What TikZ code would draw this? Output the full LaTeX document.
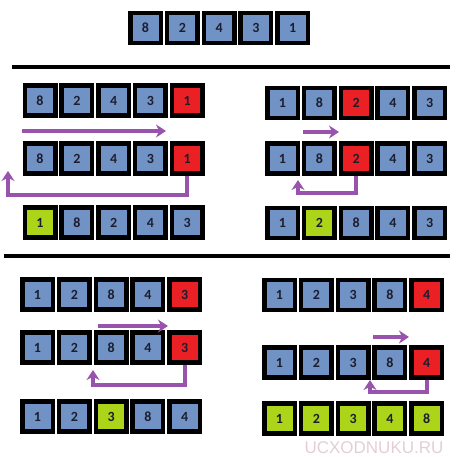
\documentclass[tikz,border=0pt]{standalone}
\usepackage{fontspec}
\setmainfont{Carlito}
\newfontfamily\markfont{Liberation Sans}
\usetikzlibrary{arrows.meta}
\definecolor{cellblue}{RGB}{112,146,196}
\definecolor{cellred}{RGB}{234,32,36}
\definecolor{cellgreen}{RGB}{172,212,24}
\definecolor{movepurple}{RGB}{152,84,172}
\definecolor{markpink}{RGB}{228,206,214}
\definecolor{digitink}{RGB}{28,30,48}
\begin{document}
\begin{tikzpicture}[x=1pt,y=-1pt,>={Stealth[length=10pt,width=13pt]},font=\bfseries\fontsize{14}{14}\selectfont]
\tikzstyle{cell}=[draw=black,line width=4.5pt,minimum width=30.5pt,minimum height=30pt,inner sep=0pt,fill=cellblue,text=digitink]
\tikzstyle{key}=[cell,fill=cellred]
\tikzstyle{done}=[cell,fill=cellgreen]
\tikzstyle{move}=[movepurple,line width=4pt]
\tikzstyle{rule}=[line width=4pt]
\useasboundingbox (0,0) rectangle (461,456);
% starting array
\foreach \v/\s [count=\i] in {8/cell,2/cell,4/cell,3/cell,1/cell}
  \node[\s] (start\i) at ({145.5+36.8*(\i-1)},28) {\v};
\draw[rule] (12,67) -- (450,67);
\draw[rule] (4,256) -- (450,256);
% pass 1
\foreach \v/\s [count=\i] in {8/cell,2/cell,4/cell,3/cell,1/key}
  \node[\s] (passAa\i) at ({40+36.8*(\i-1)},100.5) {\v};
\foreach \v/\s [count=\i] in {8/cell,2/cell,4/cell,3/cell,1/key}
  \node[\s] (passAb\i) at ({40+36.8*(\i-1)},158.5) {\v};
\foreach \v/\s [count=\i] in {1/done,8/cell,2/cell,4/cell,3/cell}
  \node[\s] (passAc\i) at ({40+36.8*(\i-1)},222.5) {\v};
\coordinate (passAfrom) at (22,131);
\coordinate (passAto) at (166,131);
\coordinate (passAturn) at (8,195);
\coordinate (passAback) at (8,171);
\draw[move,->] (passAfrom) -- (passAto);
\draw[move,->] (passAb5.south) |- (passAturn) -- (passAback);
% pass 2
\foreach \v/\s [count=\i] in {1/cell,8/cell,2/key,4/cell,3/cell}
  \node[\s] (passBa\i) at ({282.5+36.8*(\i-1)},103) {\v};
\foreach \v/\s [count=\i] in {1/cell,8/cell,2/key,4/cell,3/cell}
  \node[\s] (passBb\i) at ({282.5+36.8*(\i-1)},158.5) {\v};
\foreach \v/\s [count=\i] in {1/cell,2/done,8/cell,4/cell,3/cell}
  \node[\s] (passBc\i) at ({282.5+36.8*(\i-1)},223) {\v};
\coordinate (passBfrom) at (303,132);
\coordinate (passBto) at (339,132);
\coordinate (passBturn) at (298,193);
\coordinate (passBback) at (298,180);
\draw[move,->] (passBfrom) -- (passBto);
\draw[move,->] (passBb3.south) |- (passBturn) -- (passBback);
% pass 3
\foreach \v/\s [count=\i] in {1/cell,2/cell,8/cell,4/cell,3/key}
  \node[\s] (passCa\i) at ({37.5+36.8*(\i-1)},294.5) {\v};
\foreach \v/\s [count=\i] in {1/cell,2/cell,8/cell,4/cell,3/key}
  \node[\s] (passCb\i) at ({37.5+36.8*(\i-1)},347.5) {\v};
\foreach \v/\s [count=\i] in {1/cell,2/cell,3/done,8/cell,4/cell}
  \node[\s] (passCc\i) at ({37.5+36.8*(\i-1)},416.5) {\v};
\coordinate (passCfrom) at (98,326);
\coordinate (passCto) at (168,326);
\coordinate (passCturn) at (93,385);
\coordinate (passCback) at (93,370);
\draw[move,->] (passCfrom) -- (passCto);
\draw[move,->] (passCb5.south) |- (passCturn) -- (passCback);
% pass 4
\foreach \v/\s [count=\i] in {1/cell,2/cell,3/cell,8/cell,4/key}
  \node[\s] (passDa\i) at ({279.5+36.8*(\i-1)},295) {\v};
\foreach \v/\s [count=\i] in {1/cell,2/cell,3/cell,8/cell,4/key}
  \node[\s] (passDb\i) at ({279.5+36.8*(\i-1)},362.5) {\v};
\foreach \v/\s [count=\i] in {1/done,2/done,3/done,4/done,8/done}
  \node[\s] (passDc\i) at ({279.5+36.8*(\i-1)},418.5) {\v};
\coordinate (passDfrom) at (373,337);
\coordinate (passDto) at (409,337);
\coordinate (passDturn) at (370,392);
\coordinate (passDback) at (370,380);
\draw[move,->] (passDfrom) -- (passDto);
\draw[move,->] (passDb5.south) |- (passDturn) -- (passDback);
\node[text=markpink,font=\markfont\fontsize{17}{17}\selectfont] (mark) at (374,448) {UCXODNUKU.RU};
\end{tikzpicture}
\end{document}
